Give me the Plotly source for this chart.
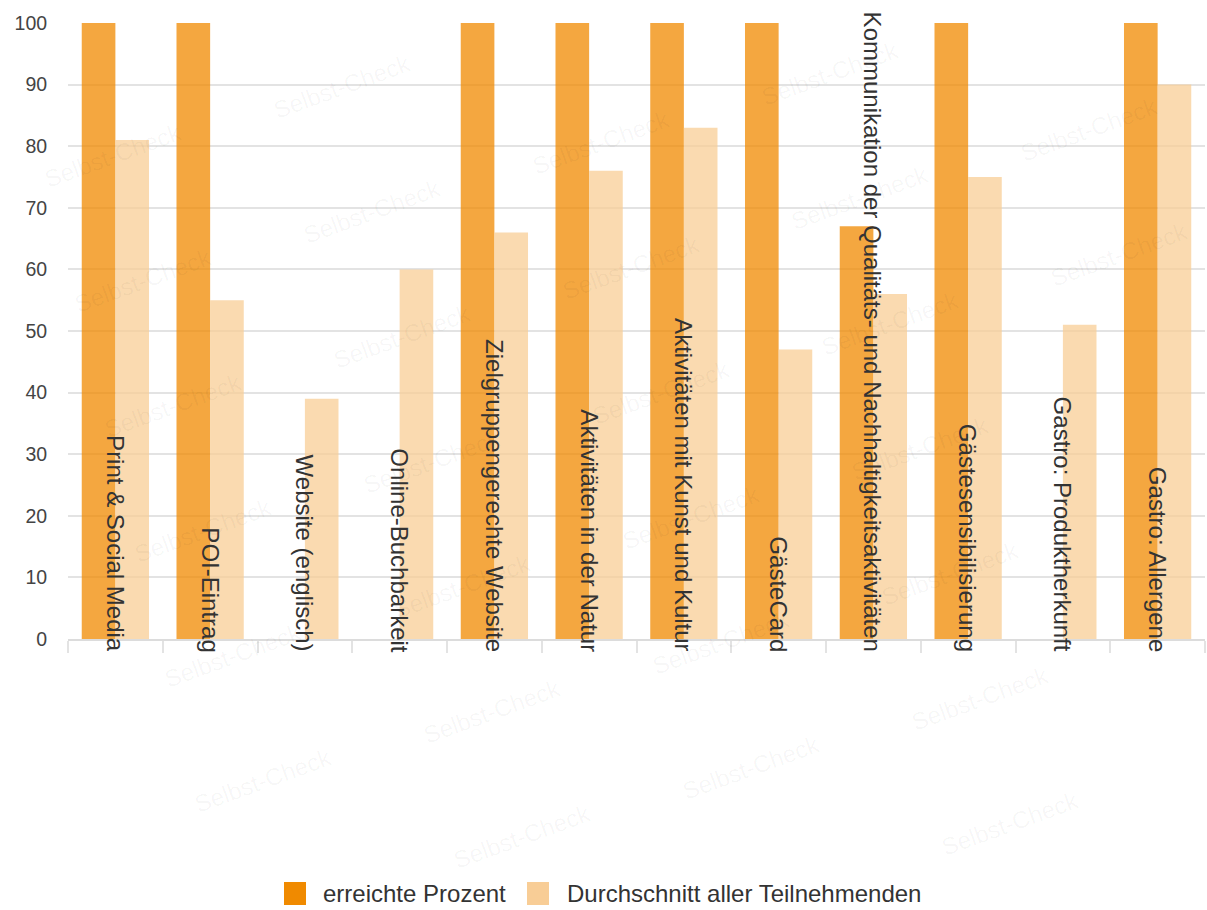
import plotly.graph_objects as go

# ---------------- data ----------------
categories = [
    "Print & Social Media",
    "POI-Eintrag",
    "Website (englisch)",
    "Online-Buchbarkeit",
    "Zielgruppengerechte Website",
    "Aktivitäten in der Natur",
    "Aktivitäten mit Kunst und Kultur",
    "GästeCard",
    "Kommunikation der Qualitäts- und Nachhaltigkeitsaktivitäten",
    "Gästesensibilisierung",
    "Gastro: Produktherkunft",
    "Gastro: Allergene",
]
erreichte_prozent = [100, 100, 0, 0, 100, 100, 100, 100, 67, 100, 0, 100]
durchschnitt = [81, 55, 39, 60, 66, 76, 83, 47, 56, 75, 51, 90]
series_names = ["erreichte Prozent", "Durchschnitt aller Teilnehmenden"]
y_tick_values = [0, 10, 20, 30, 40, 50, 60, 70, 80, 90, 100]

# ---------------- styles ----------------
W, H = 1207, 910
ML, MR, MT, MB = 68, 2, 23, 271
FONT = "Liberation Sans, Arial, Helvetica, sans-serif"
C_SOLID = ["#f08a00", "#f8cd96"]
C_BAR = ["rgba(240,138,0,0.75)", "rgba(248,205,150,0.75)"]
GRID = "#e3e3e3"
TXT = "#333333"

PW = W - ML - MR
PH = H - MT - MB


def px_x(x):
    return (x - ML) / PW


def px_y(y):
    return (H - MB - y) / PH


fig = go.Figure()
fig.add_trace(go.Bar(x=categories, y=erreichte_prozent, name=series_names[0],
                     marker=dict(color=C_BAR[0], line=dict(width=0)), showlegend=False))
fig.add_trace(go.Bar(x=categories, y=durchschnitt, name=series_names[1],
                     marker=dict(color=C_BAR[1], line=dict(width=0)), showlegend=False))

annotations = []

# faint watermark pattern (only copies that fit fully on the page)
ax_, ay_ = 229, -69
bx_, by_ = 30, 125
for i in range(-8, 9):
    for j in range(-10, 6):
        wx = 751 + i * ax_ + j * bx_
        wy = 767 + i * ay_ + j * by_
        if 85 < wx < 1120 and 35 < wy < 875:
            annotations.append(dict(
                x=px_x(wx), y=px_y(wy), xref="paper", yref="paper",
                text="Selbst-Check", showarrow=False, textangle=-20,
                xanchor="center", yanchor="middle",
                font=dict(family=FONT, size=24, color="rgba(0,0,0,0.04)"),
            ))

# rotated category labels inside plot, ending just below the axis
for c in categories:
    annotations.append(dict(
        x=c, y=0, xref="x", yref="y", text=c, showarrow=False,
        textangle=90, xanchor="center", yanchor="bottom", yshift=-14,
        font=dict(family=FONT, size=24, color=TXT), borderpad=0,
    ))

# legend (drawn manually for larger swatches)
shapes = []
legend_items = [(284, 322), (527, 566)]
for (sx, tx), name, col in zip(legend_items, series_names, C_SOLID):
    shapes.append(dict(type="rect", xref="paper", yref="paper",
                       x0=px_x(sx), x1=px_x(sx + 22), y0=px_y(905), y1=px_y(882),
                       fillcolor=col, line=dict(width=0), layer="above"))
    annotations.append(dict(x=px_x(tx), y=px_y(893.5), xref="paper", yref="paper",
                            text=name, showarrow=False, xanchor="left", yanchor="middle",
                            font=dict(family=FONT, size=24, color=TXT), borderpad=0))

fig.update_layout(
    width=W, height=H,
    margin=dict(l=ML, r=MR, t=MT, b=MB, pad=0),
    paper_bgcolor="white", plot_bgcolor="white",
    barmode="group", bargap=0.29, bargroupgap=0,
    showlegend=False,
    font=dict(family=FONT, color=TXT),
    annotations=annotations, shapes=shapes,
)
fig.update_xaxes(
    showticklabels=False, tickson="boundaries", ticks="outside", ticklen=12,
    tickcolor=GRID, tickwidth=1.5, showline=True, linecolor="#dcdcdc", linewidth=2,
    showgrid=False, zeroline=False, fixedrange=True,
)
fig.update_yaxes(
    range=[0, 100], tickvals=y_tick_values, ticks="outside", ticklen=16,
    tickcolor="rgba(0,0,0,0)", showgrid=True, gridcolor=GRID, gridwidth=1.5,
    zeroline=False, showline=False,
    tickfont=dict(family=FONT, size=19.5, color="#444444"), fixedrange=True,
)

fig.write_html("out.html", config={"displayModeBar": False},
               post_script="document.body.style.margin='0';document.body.style.overflow='hidden';")
